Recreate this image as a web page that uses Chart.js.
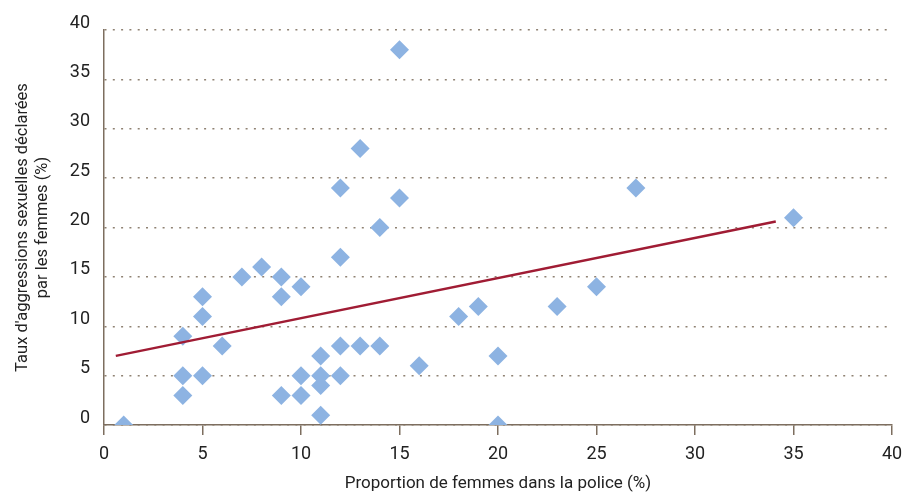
<!DOCTYPE html>
<html>
<head>
<meta charset="utf-8">
<script src="https://cdn.jsdelivr.net/npm/chart.js@4/dist/chart.umd.min.js"></script>
<style>
  html, body { margin: 0; padding: 0; background: #fff; }
  #wrap { width: 903px; height: 494px; }
</style>
</head>
<body>
<div id="wrap"><canvas id="chart"></canvas></div>
<script>
// ── Data ──────────────────────────────────────
const womenInPolice = [1, 4, 4, 4, 5, 5, 5, 6, 7, 8, 9, 9, 9, 10, 10, 10, 11, 11, 11, 11,
  12, 12, 12, 12, 13, 13, 14, 14, 15, 15, 16, 18, 19, 20, 20, 23, 25, 27, 35];
const assaultRate   = [0, 9, 5, 3, 13, 11, 5, 8, 15, 16, 15, 13, 3, 14, 5, 3, 7, 5, 4, 1,
  24, 17, 8, 5, 28, 8, 20, 8, 38, 23, 6, 11, 12, 7, 0, 12, 14, 24, 21];
const trendX = [0.6, 34.1];
const trendY = [7.0, 20.6];
const tickValues = [0, 5, 10, 15, 20, 25, 30, 35, 40];

// ── Styles ────────────────────────────────────
const FONT   = "'Liberation Sans Narrow', 'Arial Narrow', 'Roboto', sans-serif";
const TEXT   = '#222222';
const AXIS   = '#7d6e5f';
const DOTS   = '#8f8273';
const BLUE   = '#8db3e2';
const RED    = '#a01c34';

const points = womenInPolice.map((x, i) => ({ x, y: assaultRate[i] }));
const trend  = trendX.map((x, i) => ({ x, y: trendY[i] }));

new Chart(document.getElementById('chart'), {
  type: 'scatter',
  data: {
    datasets: [
      {
        label: 'Pays',
        data: points,
        pointStyle: 'rectRot',
        pointRadius: 9.5,
        pointHoverRadius: 9.5,
        backgroundColor: BLUE,
        borderColor: BLUE,
        borderWidth: 0,
        order: 2,
      },
      {
        type: 'line',
        label: 'Tendance',
        data: trend,
        borderColor: RED,
        borderWidth: 2.5,
        pointRadius: 0,
        fill: false,
        order: 1,
      },
    ],
  },
  options: {
    responsive: true,
    maintainAspectRatio: false,
    animation: false,
    layout: { padding: { top: 30, right: 11, left: 0, bottom: 0 } },
    plugins: { legend: { display: false }, tooltip: { enabled: false } },
    scales: {
      x: {
        type: 'linear',
        min: 0, max: 40,
        afterBuildTicks: s => { s.ticks = tickValues.map(v => ({ value: v })); },
        afterFit: s => { s.height = 69; s.paddingLeft = 0; s.paddingRight = 0; },
        border: { display: true, color: AXIS, width: 1.5 },
        grid: { drawOnChartArea: false, drawTicks: true, tickLength: 10, color: AXIS, lineWidth: 1.5 },
        ticks: { color: TEXT, font: { family: FONT, size: 18 }, padding: 9, maxRotation: 0 },
        title: {
          display: true,
          text: 'Proportion de femmes dans la police (%)',
          color: TEXT,
          font: { family: FONT, size: 17 },
          padding: { top: 2, bottom: 0 },
        },
      },
      y: {
        type: 'linear',
        min: 0, max: 40,
        afterBuildTicks: s => { s.ticks = tickValues.map(v => ({ value: v })); },
        afterFit: s => { s.width = 104; s.paddingTop = 0; s.paddingBottom = 0; },
        // border.dash is what v4 uses for the grid lines, the axis line stays solid
        border: { display: true, color: AXIS, width: 1.5, dash: [2, 6.3] },
        grid: { drawTicks: false, color: DOTS, lineWidth: 1.5 },
        ticks: { color: TEXT, font: { family: FONT, size: 18 }, padding: 14, labelOffset: -7 },
        title: {
          display: true,
          text: ["Taux d'aggressions sexuelles déclarées", 'par les femmes (%)'],
          color: TEXT,
          font: { family: FONT, size: 16.5, lineHeight: 1.2 },
          padding: { top: 13, bottom: 0 },
        },
      },
    },
  },
});
</script>
</body>
</html>
